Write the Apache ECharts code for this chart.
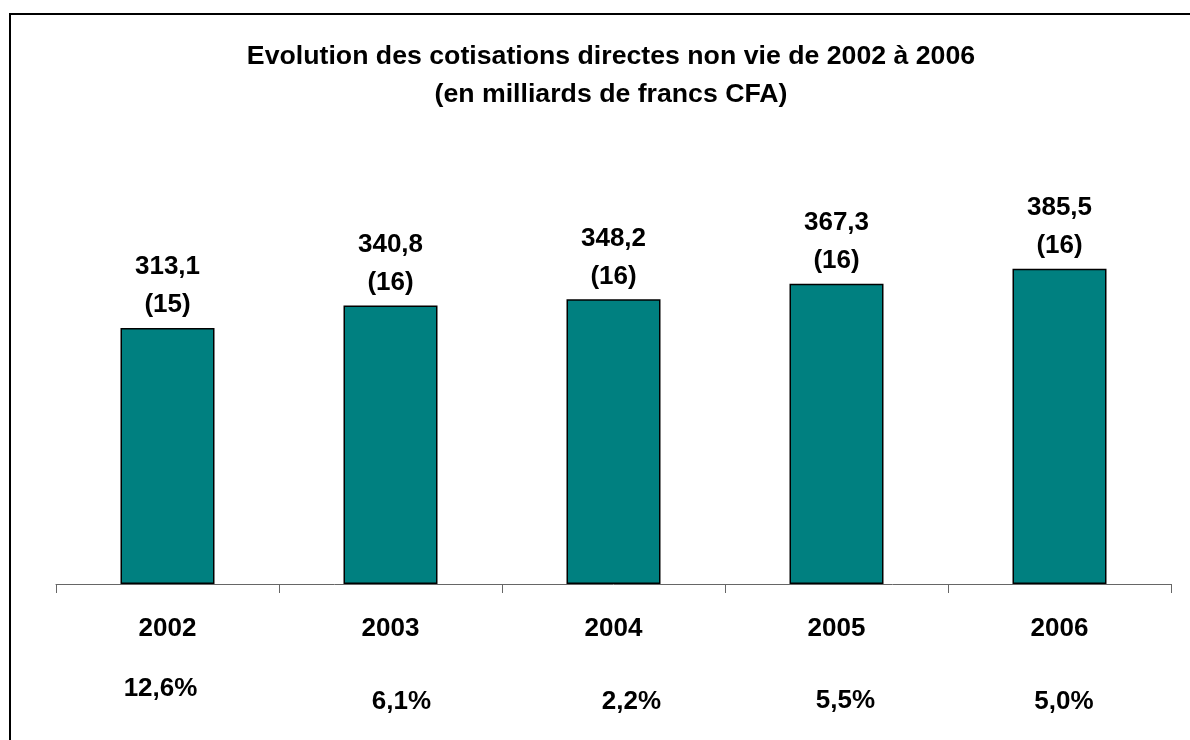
<!DOCTYPE html>
<html>
<head>
<meta charset="utf-8">
<title>Evolution des cotisations directes non vie</title>
<script src="https://cdn.jsdelivr.net/npm/echarts@6/dist/echarts.min.js"></script>
<style>
    html, body { margin: 0; padding: 0; background: #fff; overflow: hidden; }
    #frame {
        position: absolute; left: 9px; top: 13px;
        width: 1300px; height: 800px;
        border-top: 2px solid #000; border-left: 2px solid #000;
    }
    #chart { position: absolute; left: 0; top: 0; width: 1190px; height: 740px; }
</style>
</head>
<body>
<div id="frame"></div>
<div id="chart"></div>
<script>
    // donnees
    var years = ['2002', '2003', '2004', '2005', '2006'];
    var cotisations = [313.1, 340.8, 348.2, 367.3, 385.5];
    var rangs = [15, 16, 16, 16, 16];
    var croissance = ['12,6%', '6,1%', '2,2%', '5,5%', '5,0%'];

    var font = '"Liberation Sans", Arial, sans-serif';
    var chart = echarts.init(document.getElementById('chart'));

    chart.setOption({
        animation: false,
        textStyle: { fontFamily: font },
        title: {
            text: 'Evolution des cotisations directes non vie de 2002 à 2006\n(en milliards de francs CFA)',
            left: 606,
            top: 33,
            textAlign: 'center',
            textStyle: {
                fontFamily: font,
                fontSize: 26.7,
                fontWeight: 'bold',
                lineHeight: 38,
                color: '#000'
            }
        },
        grid: { left: 56, right: 19, top: 257, bottom: 156 },
        xAxis: [
            {
                type: 'category',
                data: years,
                axisLine: { lineStyle: { color: '#666', width: 1 } },
                axisTick: { show: true, length: 9, lineStyle: { color: '#666' } },
                axisLabel: {
                    margin: 32,
                    fontFamily: font,
                    fontSize: 26,
                    lineHeight: 26,
                    fontWeight: 'bold',
                    color: '#000'
                }
            },
            {
                type: 'category',
                position: 'bottom',
                data: croissance,
                axisLine: { show: false },
                axisTick: { show: false },
                axisLabel: {
                    margin: 92,
                    fontFamily: font,
                    fontSize: 26,
                    fontWeight: 'bold',
                    color: '#000',
                    formatter: function (v, i) {
                        return '{p' + i + '|' + v + '}';
                    },
                    rich: {
                        p0: { fontSize: 26, fontWeight: 'bold', lineHeight: 26, padding: [0, 14, 0, 0] },
                        p1: { fontSize: 26, fontWeight: 'bold', lineHeight: 26, padding: [26, 0, 0, 22] },
                        p2: { fontSize: 26, fontWeight: 'bold', lineHeight: 26, padding: [26, 0, 0, 36] },
                        p3: { fontSize: 26, fontWeight: 'bold', lineHeight: 26, padding: [24, 0, 0, 18] },
                        p4: { fontSize: 26, fontWeight: 'bold', lineHeight: 26, padding: [26, 0, 0, 9] }
                    }
                }
            }
        ],
        yAxis: {
            type: 'value',
            min: 0,
            max: 400,
            show: false,
            splitLine: { show: false }
        },
        series: [
            {
                name: 'Cotisations',
                type: 'bar',
                data: cotisations,
                barWidth: 94,
                itemStyle: {
                    color: '#008080',
                    borderColor: '#000',
                    borderWidth: 1.5
                },
                label: {
                    show: true,
                    position: 'top',
                    distance: 4,
                    fontFamily: font,
                    fontSize: 26,
                    lineHeight: 38,
                    fontWeight: 'bold',
                    color: '#000',
                    formatter: function (p) {
                        return p.value.toFixed(1).replace('.', ',') + '\n(' + rangs[p.dataIndex] + ')';
                    }
                }
            }
        ]
    });
</script>
</body>
</html>
